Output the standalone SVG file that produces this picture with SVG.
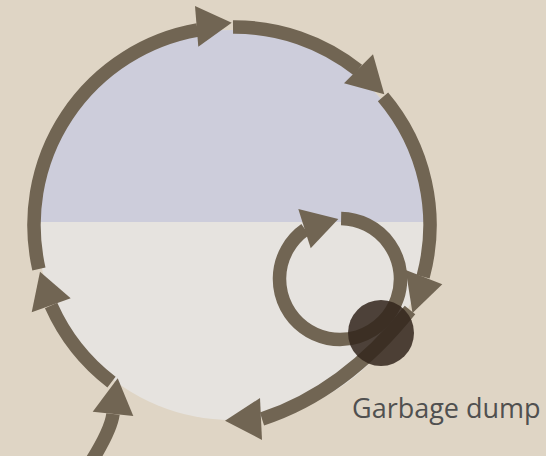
<svg xmlns="http://www.w3.org/2000/svg" width="546" height="456" viewBox="0 0 546 456">
  <style>
    .arc { fill: none; stroke: #716553; stroke-width: 13.5; stroke-linecap: butt; }
    .head { fill: #716553; }
    .label { font-family: "Open Sans", "Liberation Sans", sans-serif; font-size: 27px; fill: #505050; }
  </style>
  <defs>
    <clipPath id="upper"><rect x="0" y="0" width="546" height="222"/></clipPath>
  </defs>
  <rect x="0" y="0" width="546" height="456" fill="#dfd5c5"/>
  <g id="basin">
    <circle cx="232" cy="225" r="195" fill="#e6e3df"/>
    <circle cx="232" cy="225" r="195" fill="#cdcddb" clip-path="url(#upper)"/>
  </g>
  <g id="connectors">
    <path class="arc" d="M 91 462 Q 111 430 113 414"/>
    <polygon class="head" points="117.7,378.3 92.7,411.7 133.3,416"/>
    <path class="arc" d="M 111.5 382.1 A 198 198 0 0 1 51.1 305.5"/>
    <polygon class="head" points="40,271.7 31.7,312.3 70.7,298.3"/>
    <path class="arc" d="M 38.9 268.9 A 198 198 0 0 1 197.6 30.0"/>
    <polygon class="head" points="231.7,22.7 195,6 198.3,46.7"/>
    <path class="arc" d="M 233.0 27.0 A 198 198 0 0 1 357.9 70.0"/>
    <polygon class="head" points="384.3,94.3 373,54.3 344,83.3"/>
    <path class="arc" d="M 383.0 96.9 A 198 198 0 0 1 423.1 276.7"/>
    <polygon class="head" points="412.5,313 405.7,270 442.3,284.3"/>
    <path class="arc" d="M 341.1 218.5 A 60.5 60.5 0 1 1 305.2 229.5"/>
    <polygon class="head" points="338.3,219 298.3,209 310.7,248.3"/>
    <path class="arc" d="M 410 310 C 370 360 320 400 262 419"/>
    <polygon class="head" points="225,420.7 260,398 262,440"/>
  </g>
  <g id="dump">
    <circle cx="381" cy="333" r="33" fill="#33271d" fill-opacity="0.86"/>
    <text class="label" x="352" y="418">Garbage dump</text>
  </g>
</svg>
